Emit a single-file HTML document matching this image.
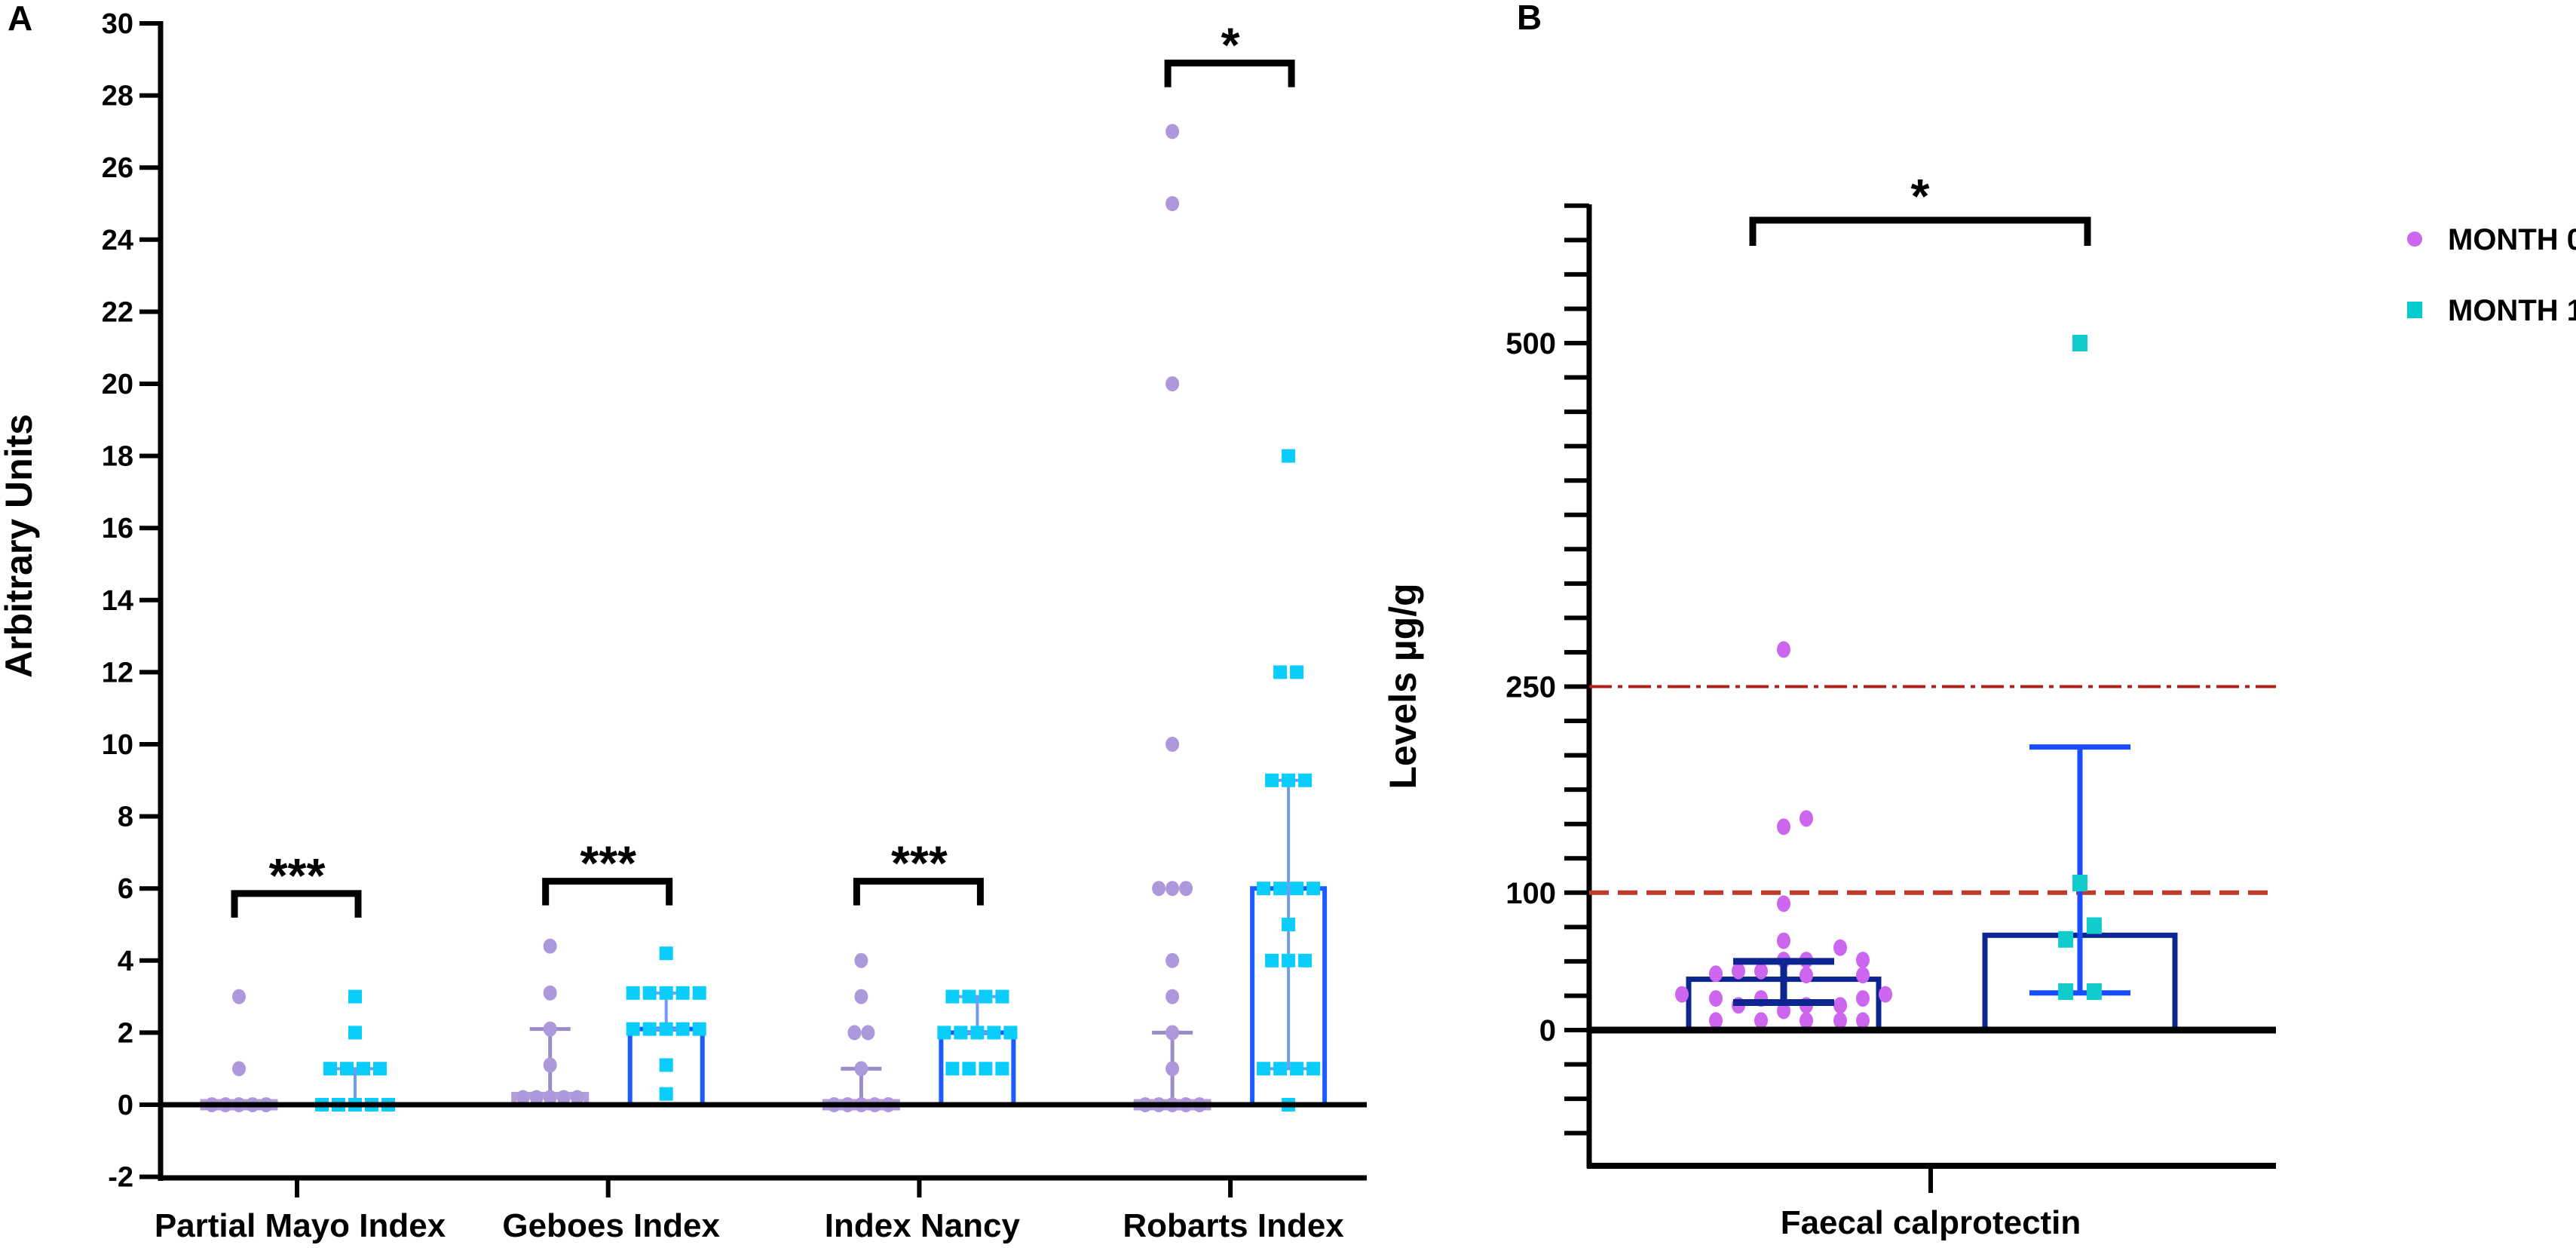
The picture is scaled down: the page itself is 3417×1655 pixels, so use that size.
<!DOCTYPE html>
<html><head><meta charset="utf-8"><style>
html,body{margin:0;padding:0;background:#fff;}
svg{display:block;font-family:"Liberation Sans",Arial,sans-serif;font-weight:bold;}
</style></head><body>
<svg id="fig" width="3417" height="1655" viewBox="0 0 3417 1655" xmlns="http://www.w3.org/2000/svg">
<g id="pa"></g>
<g id="pb"></g>
</svg>
<script>
// ---------- Panel A data ----------
const catsA = ["Partial Mayo Index","Geboes Index","Index Nancy","Robarts Index"];
const ticksA = [-2,0,2,4,6,8,10,12,14,16,18,20,22,24,26,28,30];
const m0Points = [
  [3,1,0,0,0,0,0],
  [4.4,3.1,2.1,1.1,0.2,0.2,0.2,0.2,0.2],
  [4,3,2,2,1,0,0,0,0,0],
  [27,25,20,10,6,6,6,4,3,2,1,0,0,0,0,0]
];
const m1Points = [
  [3,2,1,1,1,1,0,0,0,0,0],
  [4.2,3.1,3.1,3.1,3.1,3.1,2.1,2.1,2.1,2.1,2.1,1.1,0.3],
  [3,3,3,3,2,2,2,2,2,1,1,1,1],
  [18,12,12,9,9,9,6,6,6,6,5,4,4,4,1,1,1,1,0]
];
const m0Bar = [0,0.2,0,0];
const m0ErrHigh = [0,2.1,1,2];
const m1Bar = [0,2.1,2,6];
const m1ErrLow = [0,2.1,2,1];
const m1ErrHigh = [1,3.1,3,9];
const sigA = ["***","***","***","*"];
const bracketTop = [5.86,6.2,6.2,28.9];

// ---------- Panel B data ----------
const ticksBLabels = [0,100,250,500];
const vals0B = [277,154,148,92,65,60,51,51,51,43,43,41,40,40,26,26,23,23,23,18,18,18,14,7,7,7,7,7];
const slots0B = [0,1,0,0,0,2.5,3.5,0,1,-1,-2,-3,1,3.5,-4.5,4.5,-3,-1,3.5,-2,1,2.5,0,-3,-1,1,2.5,3.5];
const vals1B = [500,107,76,66,28,28];
const slots1B = [0,0,0.7,-0.7,-0.7,0.7];
const barB = [37,69];
const errLowB = [20,27];
const errHighB = [50,206];
const refLinesB = [100,250];

const NS="http://www.w3.org/2000/svg";
function el(parent,tag,attrs,text){const e=document.createElementNS(NS,tag);for(const k in attrs)e.setAttribute(k,attrs[k]);if(text!==undefined)e.textContent=text;parent.appendChild(e);return e;}

// ===== Panel A =====
const pa=document.getElementById('pa');
const yA=v=>1465-v*47.8;
const xA=i=>394+i*412.7;
const axL=213, axR=1813;
let t;
t=el(pa,'text',{x:10,y:40,'font-size':46});t.textContent='A';


let ln=el(pa,'line',{x1:axL,y1:28,x2:axL,y2:1566,stroke:'#000','stroke-width':7});


ticksA.forEach(v=>{
  const tk=el(pa,'line',{x1:185,y1:yA(v),x2:axL,y2:yA(v),stroke:'#000','stroke-width':6});
  
  
  const tl=el(pa,'text',{x:177,y:yA(v)+13,'font-size':38,'text-anchor':'end'},String(v));
  
  
});
t=el(pa,'text',{x:0,y:0,'font-size':50,'text-anchor':'middle',transform:'translate(42,724) rotate(-90)'},'Arbitrary Units');


ln=el(pa,'line',{x1:axL-3,y1:1562,x2:axR,y2:1562,stroke:'#000','stroke-width':7});



function dotsRow(g,vals,cx,shape,color,sp){
  const counts={};vals.forEach(v=>{counts[v]=(counts[v]||0)+1;});
  Object.keys(counts).forEach(k=>{
    const v=+k,n=counts[k];
    for(let j=0;j<n;j++){
      const x=cx+(j-(n-1)/2)*sp, y=yA(v);
      let m;
      if(shape==='c'){m=el(g,'ellipse',{cx:x,cy:y,rx:9,ry:10,fill:color});}
      else{m=el(g,'rect',{x:x-9,y:y-9,width:18,height:18,fill:color});}
      
      
    }
  });
}
catsA.forEach((c,i)=>{
  const cx=xA(i), c0=cx-77, c1=cx+77;
  const g=el(pa,'g',{});
  
  
  const b0=el(g,'rect',{x:c0-48,y:yA(m0Bar[i])-4,width:96,height:Math.max(8,yA(0)-yA(m0Bar[i])+4),fill:'none',stroke:'#b39ddb','stroke-width':7});
  
  
  const b1=el(g,'rect',{x:c1-48,y:yA(m1Bar[i]),width:96,height:yA(0)-yA(m1Bar[i]),fill:'none',stroke:'#1a5cff','stroke-width':6});
  
  
  if(m0ErrHigh[i]>m0Bar[i]){
    const e=el(g,'path',{d:`M${c0},${yA(m0Bar[i])}V${yA(m0ErrHigh[i])}M${c0-27},${yA(m0ErrHigh[i])}H${c0+27}`,stroke:'#9a8cc4','stroke-width':5,fill:'none'});
    
    
  }
  const e1=el(g,'path',{d:`M${c1},${yA(m1ErrLow[i])}V${yA(m1ErrHigh[i])}M${c1-27},${yA(m1ErrHigh[i])}H${c1+27}M${c1-27},${yA(m1ErrLow[i])}H${c1+27}`,stroke:'#6f9cf2','stroke-width':4,fill:'none'});
  
  
  dotsRow(g,m0Points[i],c0,'c','#ae98dc',18);
  dotsRow(g,m1Points[i],c1,'s','#0bcdfb',22);
  const ct=el(g,'line',{x1:cx,y1:1562,x2:cx,y2:1588,stroke:'#000','stroke-width':6});
  
  
  const cl=el(g,'text',{x:cx+4,y:1640,'font-size':44,'text-anchor':'middle'},c);
  
  
  const by=yA(bracketTop[i]), bx0=c0-6, bx1=c1+4;
  const br=el(g,'path',{d:`M${bx0},${by+32}V${by}H${bx1}V${by+32}`,stroke:'#000','stroke-width':9,fill:'none'});
  
  
  const st=el(g,'text',{x:cx,y:by-2,'font-size':64,'text-anchor':'middle'},sigA[i]);
  
  
});
ln=el(pa,'line',{x1:axL,y1:yA(0),x2:axR,y2:yA(0),stroke:'#000','stroke-width':7});



// ===== Panel B =====
const pb=document.getElementById('pb');
const yB=v=>1366-v*1.822;
const bxL=2108,bxR=3019,cB=[2366,2759];
t=el(pb,'text',{x:2012,y:39,'font-size':46},'B');


ln=el(pb,'line',{x1:bxL,y1:271,x2:bxL,y2:1549,stroke:'#000','stroke-width':7});


for(let v=-75;v<=600;v+=25){
  const tk=el(pb,'line',{x1:2075,y1:yB(v),x2:bxL,y2:yB(v),stroke:'#000','stroke-width':6});
  
  
}
ticksBLabels.forEach(v=>{
  const tl=el(pb,'text',{x:2064,y:yB(v)+14,'font-size':40,'text-anchor':'end'},String(v));
  
  
});
t=el(pb,'text',{x:0,y:0,'font-size':50,'text-anchor':'middle',transform:'translate(1878,910) rotate(-90)'},'Levels µg/g');


ln=el(pb,'line',{x1:bxL-3,y1:1546,x2:bxR,y2:1546,stroke:'#000','stroke-width':8});


ln=el(pb,'line',{x1:2561,y1:1546,x2:2561,y2:1582,stroke:'#000','stroke-width':6});


t=el(pb,'text',{x:2561,y:1636,'font-size':44,'text-anchor':'middle'},'Faecal calprotectin');


refLinesB.forEach((v,k)=>{
  const r=el(pb,'line',{x1:bxL,y1:yB(v),x2:bxR,y2:yB(v),stroke:k===0?'#c1392b':'#b0201a','stroke-width':k===0?6:4,'stroke-dasharray':k===0?'26 12':'30 8 6 8'});
  
  
});
barB.forEach((v,k)=>{
  const r=el(pb,'rect',{x:cB[k]-126,y:yB(v),width:252,height:yB(0)-yB(v),fill:'none',stroke:'#0d2590','stroke-width':7});
  
  
});
vals0B.forEach((v,j)=>{
  const d=el(pb,'ellipse',{cx:cB[0]+slots0B[j]*30,cy:yB(v),rx:9,ry:11,fill:'#cc66ee'});
  
  
});
[0,1].forEach(k=>{
  const cx=cB[k], col=k===0?'#0d2590':'#1a4dff';
  const e=el(pb,'path',{d:`M${cx},${yB(errLowB[k])}V${yB(errHighB[k])}M${cx-67},${yB(errHighB[k])}H${cx+67}M${cx-67},${yB(errLowB[k])}H${cx+67}`,stroke:col,'stroke-width':k===0?9:7,fill:'none'});
  
  
});
vals1B.forEach((v,j)=>{
  const d=el(pb,'rect',{x:cB[1]+slots1B[j]*27-10,y:yB(v)-11,width:20,height:22,fill:'#11cccc'});
  
  
});
ln=el(pb,'line',{x1:bxL,y1:yB(0),x2:bxR,y2:yB(0),stroke:'#000','stroke-width':9});


t=el(pb,'path',{d:'M2325,326V292H2769V326',stroke:'#000','stroke-width':9,fill:'none'});


t=el(pb,'text',{x:2547,y:282,'font-size':64,'text-anchor':'middle'},'*');


const lg=el(pb,'g',{});


let m=el(lg,'circle',{cx:3203,cy:317,r:10,fill:'#cc66ee'});


m=el(lg,'text',{x:3247,y:331,'font-size':40},'MONTH 0');


m=el(lg,'rect',{x:3193,y:400,width:20,height:22,fill:'#00cccc'});


m=el(lg,'text',{x:3247,y:425,'font-size':40},'MONTH 1');


</script>
</body></html>
